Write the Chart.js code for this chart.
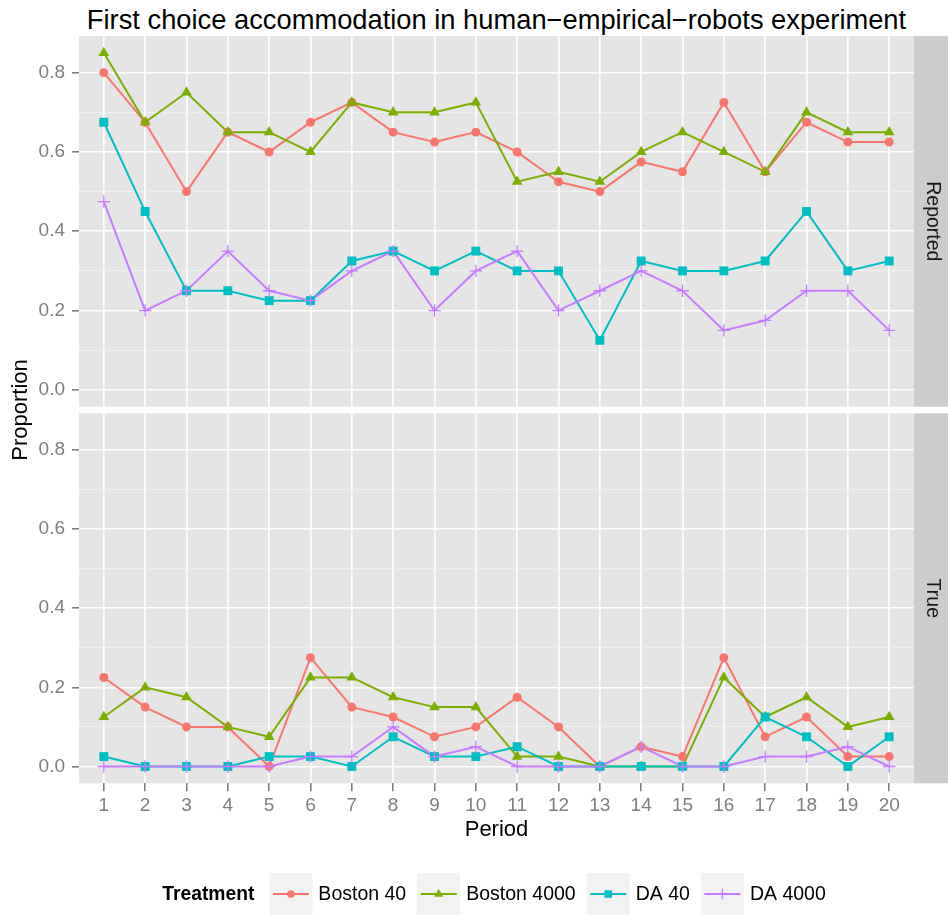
<!DOCTYPE html>
<html>
<head>
<meta charset="utf-8">
<title>First choice accommodation</title>
<script src="https://cdn.jsdelivr.net/npm/chart.js@4.4.1/dist/chart.umd.min.js"></script>
<style>
  html, body { margin: 0; padding: 0; background: #ffffff; }
  body { width: 948px; height: 915px; position: relative; overflow: hidden;
         font-family: "Liberation Sans", Arial, Helvetica, sans-serif; color: #000; }
  #title { position: absolute; left: 79px; width: 835px; top: 6px; text-align: center;
           font-size: 27.3px; line-height: 27px; white-space: nowrap; }
  #ylab { position: absolute; left: -130px; top: 397.5px; width: 300px; height: 24px;
          line-height: 24px; font-size: 22px; text-align: center; transform: rotate(-90deg); }
  #xlab { position: absolute; left: 79px; width: 835px; top: 817px; height: 24px;
          line-height: 24px; font-size: 22px; text-align: center; }
  canvas { position: absolute; left: 0; }
  #panelTop { top: 0; }
  #panelBottom { top: 410px; }
</style>
</head>
<body>
<div id="title">First choice accommodation in human−empirical−robots experiment</div>
<canvas id="panelTop" width="948" height="410"></canvas>
<canvas id="panelBottom" width="948" height="505"></canvas>
<div id="ylab">Proportion</div>
<div id="xlab">Period</div>
<script>
// Periods on the x axis
const periods = [1, 2, 3, 4, 5, 6, 7, 8, 9, 10, 11, 12, 13, 14, 15, 16, 17, 18, 19, 20];

// Treatments (legend order)
const treatments = ['Boston 40', 'Boston 4000', 'DA 40', 'DA 4000'];

// Facet names
const panelNames = ['Reported', 'True'];

// Reported preferences: proportion choosing the first choice
const reportedBoston40   = [0.8, 0.675, 0.5, 0.65, 0.6, 0.675, 0.725, 0.65, 0.625, 0.65, 0.6, 0.525, 0.5, 0.575, 0.55, 0.725, 0.55, 0.675, 0.625, 0.625];
const reportedBoston4000 = [0.85, 0.675, 0.75, 0.65, 0.65, 0.6, 0.725, 0.7, 0.7, 0.725, 0.525, 0.55, 0.525, 0.6, 0.65, 0.6, 0.55, 0.7, 0.65, 0.65];
const reportedDA40       = [0.675, 0.45, 0.25, 0.25, 0.225, 0.225, 0.325, 0.35, 0.3, 0.35, 0.3, 0.3, 0.125, 0.325, 0.3, 0.3, 0.325, 0.45, 0.3, 0.325];
const reportedDA4000     = [0.475, 0.2, 0.25, 0.35, 0.25, 0.225, 0.3, 0.35, 0.2, 0.3, 0.35, 0.2, 0.25, 0.3, 0.25, 0.15, 0.175, 0.25, 0.25, 0.15];

// True preferences: proportion choosing the first choice
const trueBoston40   = [0.225, 0.15, 0.1, 0.1, 0.0, 0.275, 0.15, 0.125, 0.075, 0.1, 0.175, 0.1, 0.0, 0.05, 0.025, 0.275, 0.075, 0.125, 0.025, 0.025];
const trueBoston4000 = [0.125, 0.2, 0.175, 0.1, 0.075, 0.225, 0.225, 0.175, 0.15, 0.15, 0.025, 0.025, 0.0, 0.0, 0.0, 0.225, 0.125, 0.175, 0.1, 0.125];
const trueDA40       = [0.025, 0.0, 0.0, 0.0, 0.025, 0.025, 0.0, 0.075, 0.025, 0.025, 0.05, 0.0, 0.0, 0.0, 0.0, 0.0, 0.125, 0.075, 0.0, 0.075];
const trueDA4000     = [0.0, 0.0, 0.0, 0.0, 0.0, 0.025, 0.025, 0.1, 0.025, 0.05, 0.0, 0.0, 0.0, 0.05, 0.0, 0.0, 0.025, 0.025, 0.05, 0.0];

// Y axis breaks
const yTickValues = [0.0, 0.2, 0.4, 0.6, 0.8];
const yTickLabels = ['0.0', '0.2', '0.4', '0.6', '0.8'];
const yMinorValues = [0.1, 0.3, 0.5, 0.7];

// ---- styling ----
const FONT = '"Liberation Sans", Arial, Helvetica, sans-serif';
Chart.defaults.font.family = FONT;

const seriesStyle = [
  { color: '#F8766D', shape: 'circle',   radius: 4.5, border: 0 },
  { color: '#7CAE00', shape: 'triangle', radius: 6.2, border: 0 },
  { color: '#00BFC4', shape: 'rect',     radius: 6.3, border: 0 },
  { color: '#C77CFF', shape: 'cross',    radius: 6.2, border: 1.3 }
];
const PANEL_BG = '#E5E5E5';
const STRIP_BG = '#CCCCCC';
const MINOR_GRID = '#F2F2F2';
const AXIS_GREY = '#7F7F7F';
const Y_MIN = -0.0425, Y_MAX = 0.8925;
const X_MIN = 0.4, X_MAX = 20.6;

function buildDatasets(seriesValues) {
  const sets = [];
  seriesValues.forEach((vals, i) => {
    const st = seriesStyle[i];
    const pts = periods.map((p, j) => ({ x: p, y: vals[j] }));
    // connecting line (drawn beneath every marker)
    sets.push({
      label: treatments[i], data: pts, borderColor: st.color, borderWidth: 2,
      pointRadius: 0, pointHoverRadius: 0, fill: false, tension: 0,
      order: 20 - i, clip: false
    });
    // markers
    sets.push({
      label: treatments[i], data: pts, showLine: false,
      pointStyle: st.shape, pointRadius: st.radius, pointHoverRadius: st.radius,
      pointBackgroundColor: st.color, pointBorderColor: st.color,
      pointBorderWidth: st.border, order: 10 - i, clip: false
    });
  });
  return sets;
}

const isMajorY = v => yTickValues.some(t => Math.abs(t - v) < 1e-9);

function yScale() {
  return {
    type: 'linear', min: Y_MIN, max: Y_MAX,
    afterBuildTicks: s => {
      s.ticks = yTickValues.concat(yMinorValues).sort((a, b) => a - b).map(v => ({ value: v }));
    },
    afterFit: s => { s.width = 79; s.paddingTop = 0; s.paddingBottom = 0; },
    border: { display: false },
    grid: {
      color: c => (c.tick && isMajorY(c.tick.value)) ? '#FFFFFF' : MINOR_GRID,
      lineWidth: c => (c.tick && isMajorY(c.tick.value)) ? 1.6 : 0.8,
      tickColor: c => (c.tick && isMajorY(c.tick.value)) ? AXIS_GREY : 'rgba(0,0,0,0)',
      tickWidth: 1.6,
      tickLength: 7
    },
    ticks: {
      autoSkip: false, color: AXIS_GREY, padding: 7,
      font: { size: 19, family: FONT },
      callback: v => {
        const k = yTickValues.findIndex(t => Math.abs(t - v) < 1e-9);
        return k >= 0 ? yTickLabels[k] : '';
      }
    }
  };
}

function xScale(showLabels, height) {
  return {
    type: 'linear', min: X_MIN, max: X_MAX,
    afterBuildTicks: s => { s.ticks = periods.map(p => ({ value: p })); },
    afterFit: s => { s.height = height; s.paddingLeft = 0; s.paddingRight = 0; },
    border: { display: false },
    grid: {
      color: '#FFFFFF', lineWidth: 1.6,
      drawTicks: showLabels, tickColor: AXIS_GREY, tickWidth: 1.6, tickLength: 8
    },
    ticks: {
      display: showLabels, autoSkip: false, maxRotation: 0, color: AXIS_GREY, padding: 3,
      font: { size: 19, family: FONT },
      callback: v => { const k = periods.indexOf(v); return k >= 0 ? String(periods[k]) : ''; }
    }
  };
}

// grey panel background and facet strip on the right
const panelDecor = {
  id: 'panelDecor',
  beforeDraw(chart, args, opts) {
    const { ctx, chartArea: a } = chart;
    ctx.save();
    ctx.fillStyle = PANEL_BG;
    ctx.fillRect(a.left, a.top, a.right - a.left, a.bottom - a.top);
    ctx.fillStyle = STRIP_BG;
    ctx.fillRect(a.right, a.top, chart.width - a.right, a.bottom - a.top);
    ctx.translate(a.right + (chart.width - a.right) / 2 + 1, (a.top + a.bottom) / 2);
    ctx.rotate(Math.PI / 2);
    ctx.fillStyle = '#1A1A1A';
    ctx.font = '19.5px ' + FONT;
    ctx.textAlign = 'center';
    ctx.textBaseline = 'middle';
    ctx.fillText(opts.label, 0, 0);
    ctx.restore();
  }
};

function drawMarker(ctx, st, x, y) {
  ctx.fillStyle = st.color;
  ctx.strokeStyle = st.color;
  ctx.lineWidth = st.border;
  if (Chart.helpers && Chart.helpers.drawPoint) {
    Chart.helpers.drawPoint(ctx, { pointStyle: st.shape, radius: st.radius * 0.85, rotation: 0, borderWidth: st.border }, x, y);
  }
}

// treatment key below the panels
const treatmentKey = {
  id: 'treatmentKey',
  afterDraw(chart) {
    const ctx = chart.ctx;
    ctx.save();
    const cy = 484;
    const keyW = 43, keyH = 42;
    ctx.textBaseline = 'middle';
    ctx.textAlign = 'left';
    const titleFont = 'bold 19.3px ' + FONT, itemFont = '19.5px ' + FONT;
    ctx.font = titleFont;
    const titleW = ctx.measureText('Treatment').width;
    ctx.font = itemFont;
    const itemW = treatments.map(t => ctx.measureText(t).width);
    let total = titleW + 15;
    itemW.forEach((w, i) => { total += keyW + 6 + w + (i < itemW.length - 1 ? 11 : 0); });
    let x = 494 - total / 2;
    ctx.font = titleFont;
    ctx.fillStyle = '#000';
    ctx.fillText('Treatment', x, cy + 1);
    x += titleW + 15;
    treatments.forEach((name, i) => {
      const st = seriesStyle[i];
      ctx.fillStyle = MINOR_GRID;
      ctx.fillRect(x, cy - keyH / 2, keyW, keyH);
      ctx.strokeStyle = st.color;
      ctx.lineWidth = 2;
      ctx.beginPath();
      ctx.moveTo(x + 3.5, cy);
      ctx.lineTo(x + keyW - 3.5, cy);
      ctx.stroke();
      drawMarker(ctx, st, x + keyW / 2, cy);
      x += keyW + 6;
      ctx.font = itemFont;
      ctx.fillStyle = '#000';
      ctx.fillText(name, x, cy + 1);
      x += itemW[i] + 11;
    });
    ctx.restore();
  }
};

function makePanel(canvasId, seriesValues, label, padding, showX, xHeight, extraPlugins) {
  return new Chart(document.getElementById(canvasId), {
    type: 'line',
    data: { datasets: buildDatasets(seriesValues) },
    options: {
      responsive: false, animation: false, events: [],
      layout: { padding: padding, autoPadding: false },
      scales: { x: xScale(showX, xHeight), y: yScale() },
      plugins: {
        legend: { display: false }, tooltip: { enabled: false }, title: { display: false },
        panelDecor: { label: label }
      }
    },
    plugins: [panelDecor].concat(extraPlugins)
  });
}

makePanel('panelTop',
  [reportedBoston40, reportedBoston4000, reportedDA40, reportedDA4000],
  panelNames[0], { top: 36, right: 34, bottom: 3.3, left: 0 }, false, 0, []);

makePanel('panelBottom',
  [trueBoston40, trueBoston4000, trueDA40, trueDA4000],
  panelNames[1], { top: 3.3, right: 34, bottom: 0, left: 0 }, true, 131.7, [treatmentKey]);
</script>
</body>
</html>
